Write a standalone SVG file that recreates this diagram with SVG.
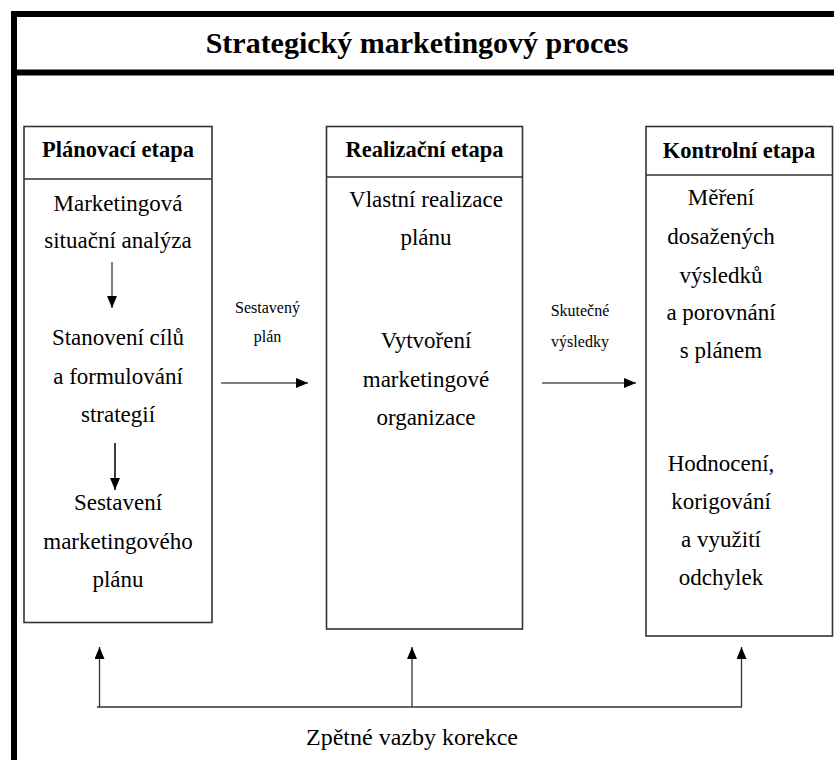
<svg xmlns="http://www.w3.org/2000/svg" width="834" height="760" viewBox="0 0 834 760">
<style>
.t{fill:#000;text-anchor:middle}
.title{font-size:30px;font-weight:bold}
.hd{font-size:22.5px;font-weight:bold}
.bd{font-size:23px}
.sm{font-size:16px}
.fb{font-size:24px}
.box{fill:none;stroke:#333;stroke-width:1.6}
.sep{stroke:#333;stroke-width:1.6}
.frame{fill:none;stroke:#000;stroke-width:6}
.ga{stroke:#808080;stroke-width:2;fill:none}
.ba{stroke:#000;stroke-width:1.5;fill:none}
.fl{stroke:#333;stroke-width:1.3;fill:none}
</style>
<defs>
<marker id="ah" viewBox="0 0 12 10" refX="12" refY="5" markerWidth="12" markerHeight="10" markerUnits="userSpaceOnUse" orient="auto">
<path d="M0,0 L12,5 L0,10 Z" fill="#000"/>
</marker>
</defs>
<rect width="834" height="760" fill="#fff"/>
<g font-family="'Liberation Serif', 'DejaVu Serif', serif">
<g id="frame">
<path class="frame" d="M14,760 V14 H834"/>
<line class="frame" x1="14" y1="72.5" x2="834" y2="72.5"/>
<text class="t title" x="417" y="53">Strategický marketingový proces</text>
</g>
<g id="planovaci">
<rect class="box" x="24" y="126.5" width="188" height="496"/>
<line class="sep" x1="24" y1="179" x2="212" y2="179"/>
<text class="t hd" x="118" y="157">Plánovací etapa</text>
<text class="t bd" x="118" y="210.5">Marketingová</text>
<text class="t bd" x="118" y="248">situační analýza</text>
<text class="t bd" x="118" y="345">Stanovení cílů</text>
<text class="t bd" x="118" y="384">a formulování</text>
<text class="t bd" x="118" y="422">strategií</text>
<text class="t bd" x="118" y="510">Sestavení</text>
<text class="t bd" x="118" y="549">marketingového</text>
<text class="t bd" x="118" y="587">plánu</text>
</g>
<g id="realizacni">
<rect class="box" x="326.5" y="126.5" width="196" height="502.5"/>
<line class="sep" x1="326.5" y1="177" x2="522.5" y2="177"/>
<text class="t hd" x="424.5" y="157">Realizační etapa</text>
<text class="t bd" x="426" y="207">Vlastní realizace</text>
<text class="t bd" x="426" y="245">plánu</text>
<text class="t bd" x="426" y="348">Vytvoření</text>
<text class="t bd" x="426" y="387">marketingové</text>
<text class="t bd" x="426" y="425">organizace</text>
</g>
<g id="kontrolni">
<rect class="box" x="646" y="126.5" width="186.5" height="509.5"/>
<line class="sep" x1="646" y1="175" x2="832.5" y2="175"/>
<text class="t hd" x="739" y="158">Kontrolní etapa</text>
<text class="t bd" x="721" y="205">Měření</text>
<text class="t bd" x="721" y="244">dosažených</text>
<text class="t bd" x="721" y="283">výsledků</text>
<text class="t bd" x="721" y="320">a porovnání</text>
<text class="t bd" x="721" y="358">s plánem</text>
<text class="t bd" x="721" y="471">Hodnocení,</text>
<text class="t bd" x="721" y="509">korigování</text>
<text class="t bd" x="721" y="547">a využití</text>
<text class="t bd" x="721" y="585">odchylek</text>
</g>
<g id="connectors">
<line class="ga" x1="112" y1="262" x2="112" y2="308" marker-end="url(#ah)"/>
<line class="ba" x1="115" y1="443" x2="115" y2="490" marker-end="url(#ah)"/>
<line class="ga" x1="221" y1="383" x2="308" y2="383" marker-end="url(#ah)"/>
<line class="ga" x1="542" y1="383" x2="636" y2="383" marker-end="url(#ah)"/>
<line class="fl" x1="97" y1="707" x2="742" y2="707"/>
<line class="fl" x1="99.5" y1="707" x2="99.5" y2="647" marker-end="url(#ah)"/>
<line class="fl" x1="412" y1="707" x2="412" y2="647" marker-end="url(#ah)"/>
<line class="fl" x1="741.5" y1="707" x2="741.5" y2="647" marker-end="url(#ah)"/>
<text class="t sm" x="267.5" y="313">Sestavený</text>
<text class="t sm" x="267.5" y="342">plán</text>
<text class="t sm" x="580" y="316">Skutečné</text>
<text class="t sm" x="580" y="347">výsledky</text>
<text class="t fb" x="412" y="745">Zpětné vazby korekce</text>
</g>
</g>
</svg>
